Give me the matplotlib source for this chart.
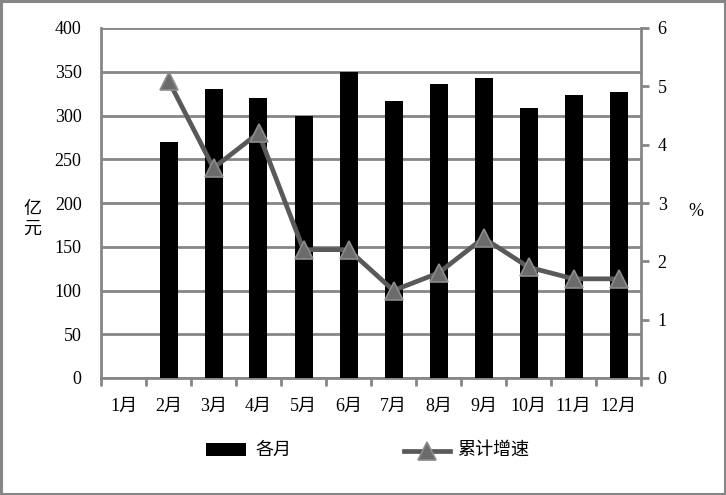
import matplotlib
matplotlib.use("Agg")
import matplotlib.pyplot as plt
from matplotlib.patches import Rectangle

months = ["1月", "2月", "3月", "4月", "5月", "6月", "7月", "8月", "9月", "10月", "11月", "12月"]
monthly = [None, 270, 330, 320, 300, 350, 317, 336, 343, 309, 323, 327]
growth = [None, 5.1, 3.6, 4.2, 2.2, 2.2, 1.5, 1.8, 2.4, 1.9, 1.7, 1.7]
left_ticks = [0, 50, 100, 150, 200, 250, 300, 350, 400]
right_ticks = [0, 1, 2, 3, 4, 5, 6]

FONT = ["Liberation Serif", "Noto Sans CJK SC"]
plt.rcParams["font.family"] = FONT
GRID = "#868686"
FS = 13

W, H = 726, 495
fig = plt.figure(figsize=(W / 100, H / 100), dpi=100)
fig.patches.append(Rectangle((0.002, 0.003), 0.996, 0.994, transform=fig.transFigure,
                             fill=False, edgecolor=GRID, linewidth=2.2))

x0, x1, yt, yb = 101, 641, 28, 378
ax = fig.add_axes([x0 / W, 1 - yb / H, (x1 - x0) / W, (yb - yt) / H])
ax2 = ax.twinx()

xs = list(range(len(months)))
bx = [x for x, v in zip(xs, monthly) if v is not None]
bv = [v for v in monthly if v is not None]
ax.bar(bx, bv, width=0.4, color="black", zorder=3)
ax.set_xlim(-0.5, len(months) - 0.5)
ax.set_ylim(0, 400)
ax.set_yticks(left_ticks)
ax.yaxis.grid(True, color=GRID, linewidth=2)
ax.set_axisbelow(True)
for s in ["top", "right"]:
    ax.spines[s].set_visible(False)
ax.spines["left"].set_color(GRID)
ax.spines["left"].set_linewidth(2)
ax.spines["bottom"].set_color(GRID)
ax.spines["bottom"].set_linewidth(2)
ax.tick_params(axis="y", length=0, labelsize=FS, pad=14)
ax.set_xticks(xs)
ax.set_xticklabels(months, fontsize=FS)
ax.set_xticks([i - 0.5 for i in range(len(months) + 1)], minor=True)
ax.tick_params(axis="x", which="major", length=0, pad=14)
ax.tick_params(axis="x", which="minor", length=6, width=2, color=GRID, direction="out")

lx = [x for x, v in zip(xs, growth) if v is not None]
lv = [v for v in growth if v is not None]
MK = dict(marker="^", markersize=13.5, markerfacecolor="#6b6b6b",
          markeredgecolor="#8c8c8c", markeredgewidth=1.2)
ax2.plot(lx, lv, color="#595959", linewidth=3.4, zorder=5, **MK)
ax2.set_ylim(0, 6)
ax2.set_yticks(right_ticks)
for s in ["top", "left", "bottom"]:
    ax2.spines[s].set_visible(False)
ax2.spines["right"].set_color(GRID)
ax2.spines["right"].set_linewidth(2)
ax2.tick_params(axis="y", length=6, width=2, color=GRID, direction="out", labelsize=FS, pad=6)

fig.text(32 / W, 1 - 219 / H, "亿\n元", ha="center", va="center", fontsize=FS,
         linespacing=1.2)
fig.text(696 / W, 1 - 212 / H, "%", ha="center", va="center", fontsize=FS)

# legend
fig.patches.append(Rectangle((206 / W, 1 - 456 / H), 40 / W, 13 / H, transform=fig.transFigure,
                             facecolor="black", edgecolor="none"))
fig.text(255 / W, 1 - 450 / H, "各月", ha="left", va="center", fontsize=FS)
fig.lines.append(plt.Line2D([404 / W, 450 / W], [1 - 451 / H, 1 - 451 / H], transform=fig.transFigure,
                            color="#595959", linewidth=3.4))
fig.lines.append(plt.Line2D([427 / W], [1 - 451 / H], transform=fig.transFigure,
                            linestyle="none", **MK))
fig.text(457 / W, 1 - 450 / H, "累计增速", ha="left", va="center", fontsize=FS)

fig.savefig("out.png", dpi=100)
